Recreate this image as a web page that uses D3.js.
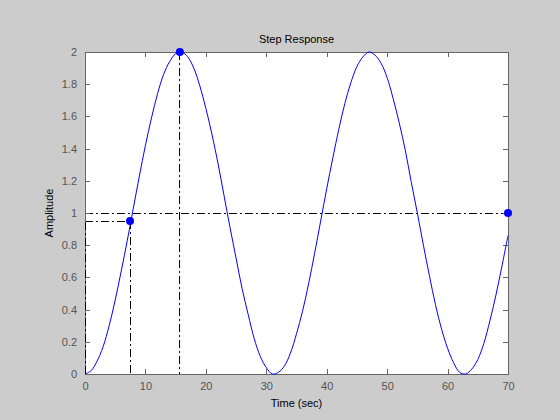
<!DOCTYPE html>
<html>
<head>
<meta charset="utf-8">
<script src="https://cdn.jsdelivr.net/npm/d3@7"></script>
<style>
  body { margin: 0; background: #cccccc; }
  text { font-family: Arial, "Liberation Sans", sans-serif; }
</style>
</head>
<body>
<div id="chart"></div>
<script>
const W = 560, H = 420;
const margin = ({top: 52, right: 52, bottom: 46, left: 85});
const width = W - margin.left - margin.right;
const height = H - margin.top - margin.bottom;

// step response samples (1 sec spacing)
const time = d3.range(0, 71);
const amplitude = [
  0.00, 0.02, 0.08, 0.17, 0.30, 0.46, 0.64, 0.83, 1.03, 1.23,
  1.42, 1.59, 1.74, 1.86, 1.94, 1.99, 2.00, 1.97, 1.90, 1.79,
  1.65, 1.49, 1.31, 1.11, 0.91, 0.72, 0.53, 0.37, 0.22, 0.11,
  0.04, 0.00, 0.01, 0.05, 0.13, 0.25, 0.39, 0.56, 0.75, 0.95,
  1.15, 1.34, 1.52, 1.68, 1.81, 1.91, 1.97, 2.00, 1.98, 1.93,
  1.84, 1.71, 1.56, 1.39, 1.19, 1.00, 0.80, 0.61, 0.43, 0.28,
  0.16, 0.07, 0.01, 0.00, 0.03, 0.09, 0.19, 0.33, 0.49, 0.67,
  0.86
];

// characteristic points: rise, peak, steady state
const markerT = [7.45, 15.7, 70];
const markerY = [0.95, 2.0, 1.0];

const xTicks = [0, 10, 20, 30, 40, 50, 60, 70];
const yTicks = [0, 0.2, 0.4, 0.6, 0.8, 1, 1.2, 1.4, 1.6, 1.8, 2];

const x = d3.scaleLinear().domain([0, 70]).range([0, width]);
const y = d3.scaleLinear().domain([0, 2]).range([height, 0]);

const svg = d3.select('#chart').append('svg')
    .attr('width', W)
    .attr('height', H)
    .style('display', 'block');

svg.append('rect').attr('width', W).attr('height', H).attr('fill', '#cccccc');

const g = svg.append('g')
    .attr('transform', 'translate(' + margin.left + ',' + margin.top + ')');

g.append('rect')
    .attr('width', width)
    .attr('height', height)
    .attr('fill', '#ffffff');

// reference lines (dash-dot)
const dashDot = '8,3,2,3';
const refLines = [
  [0, markerY[1], markerT[1], markerY[1]],
  [markerT[1], markerY[1], markerT[1], 0],
  [0, markerY[0], markerT[0], markerY[0]],
  [markerT[0], markerY[0], markerT[0], 0],
  [0, markerY[2], markerT[2], markerY[2]]
];
g.selectAll('.ref').data(refLines).enter().append('line')
    .attr('class', 'ref')
    .attr('x1', d => x(d[0])).attr('y1', d => y(d[1]))
    .attr('x2', d => x(d[2])).attr('y2', d => y(d[3]))
    .attr('stroke', '#000')
    .attr('stroke-width', 1)
    .attr('shape-rendering', 'crispEdges')
    .attr('stroke-dasharray', dashDot);

// axes: inward ticks, on all four sides
const tickColor = '#666666';
const xAxisB = d3.axisBottom(x).tickValues(xTicks).tickSizeInner(-5).tickSizeOuter(0).tickPadding(8);
const xAxisT = d3.axisTop(x).tickValues(xTicks).tickSizeInner(-5).tickSizeOuter(0).tickFormat('');
const yAxisL = d3.axisLeft(y).tickValues(yTicks).tickSizeInner(-5).tickSizeOuter(0).tickPadding(8).tickFormat(d3.format('~g'));
const yAxisR = d3.axisRight(y).tickValues(yTicks).tickSizeInner(-5).tickSizeOuter(0).tickFormat('');

const axes = [
  g.append('g').attr('transform', 'translate(0,' + height + ')').call(xAxisB),
  g.append('g').call(xAxisT),
  g.append('g').call(yAxisL),
  g.append('g').attr('transform', 'translate(' + width + ',0)').call(yAxisR)
];
axes.forEach(a => {
  a.select('.domain').attr('stroke', tickColor).attr('shape-rendering', 'crispEdges');
  a.selectAll('.tick line').attr('stroke', tickColor).attr('shape-rendering', 'crispEdges');
  a.selectAll('.tick text').attr('fill', '#555555').style('font-size', '11px');
});

// the response curve
const line = d3.line()
    .x((d, i) => x(time[i]))
    .y(d => y(d))
    .curve(d3.curveCatmullRom);

g.append('path')
    .datum(amplitude)
    .attr('d', line)
    .attr('fill', 'none')
    .attr('stroke', '#0000ff')
    .attr('stroke-width', 1);

// rise start line, drawn over the left axis
g.append('line')
    .attr('x1', x(0)).attr('y1', y(0))
    .attr('x2', x(0)).attr('y2', y(markerY[0]))
    .attr('stroke', '#000')
    .attr('shape-rendering', 'crispEdges')
    .attr('stroke-dasharray', dashDot);

g.selectAll('.mark').data(markerT).enter().append('circle')
    .attr('class', 'mark')
    .attr('cx', d => x(d))
    .attr('cy', (d, i) => y(markerY[i]))
    .attr('r', 4)
    .attr('fill', '#0000ff');

// texts
svg.append('text')
    .attr('x', margin.left + width / 2)
    .attr('y', 43)
    .attr('text-anchor', 'middle')
    .style('font-size', '11px')
    .attr('fill', '#000')
    .text('Step Response');

svg.append('text')
    .attr('x', margin.left + width / 2)
    .attr('y', 407)
    .attr('text-anchor', 'middle')
    .style('font-size', '11px')
    .attr('fill', '#000')
    .text('Time (sec)');

svg.append('text')
    .attr('transform', 'translate(53,' + (margin.top + height / 2) + ') rotate(-90)')
    .attr('text-anchor', 'middle')
    .style('font-size', '11px')
    .attr('fill', '#000')
    .text('Amplitude');
</script>
</body>
</html>
